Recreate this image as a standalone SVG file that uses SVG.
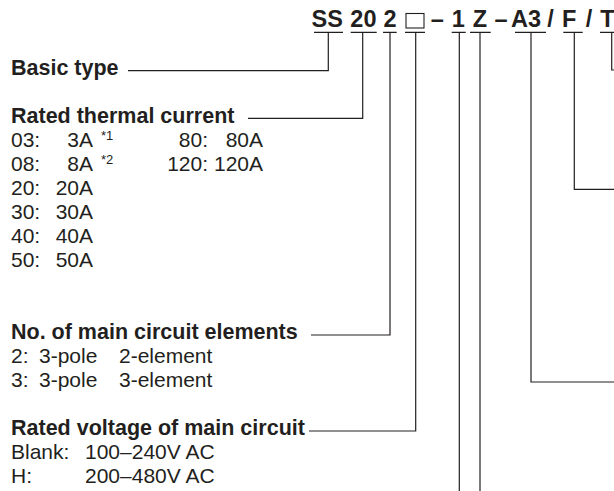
<svg xmlns="http://www.w3.org/2000/svg" width="614" height="491" viewBox="0 0 614 491">
<style>
text{font-family:"Liberation Sans",Arial,Helvetica,sans-serif;fill:#231f20}
.code{font-size:23.5px;font-weight:bold;text-anchor:middle}
.h{font-size:21.5px;font-weight:bold}
.t{font-size:21px}
.r{text-anchor:end}
.sup{font-size:13px}
.ln{fill:none;stroke:#231f20;stroke-width:1.2}
.box{fill:none;stroke:#231f20;stroke-width:1.1}
</style>
<g id="code">
<text class="code" x="327.2" y="27">SS</text>
<text class="code" x="363.4" y="27">20</text>
<text class="code" x="390" y="27">2</text>
<rect class="box" x="406" y="13.5" width="18" height="14.5"/>
<text class="code" x="437.4" y="27">–</text>
<text class="code" x="458.4" y="27">1</text>
<text class="code" x="480" y="27">Z</text>
<text class="code" x="501" y="27">–</text>
<text class="code" x="526" y="27">A3</text>
<text class="code" x="550.5" y="27">/</text>
<text class="code" x="569.2" y="27">F</text>
<text class="code" x="589" y="27">/</text>
<text class="code" x="607.5" y="27">T</text>
</g>
<g id="basic-type">
<text class="h" x="11" y="75">Basic type</text>
</g>
<g id="rated-thermal-current">
<text class="h" x="11" y="123">Rated thermal current</text>
<text class="t" x="11" y="147">03:</text><text class="t r" x="93" y="147">3A</text><text class="sup" x="101" y="140">*1</text>
<text class="t r" x="208" y="147">80:</text><text class="t r" x="263" y="147">80A</text>
<text class="t" x="11" y="171">08:</text><text class="t r" x="93" y="171">8A</text><text class="sup" x="101" y="164">*2</text>
<text class="t r" x="208" y="171">120:</text><text class="t r" x="263" y="171">120A</text>
<text class="t" x="11" y="195">20:</text><text class="t r" x="93" y="195">20A</text>
<text class="t" x="11" y="219">30:</text><text class="t r" x="93" y="219">30A</text>
<text class="t" x="11" y="243">40:</text><text class="t r" x="93" y="243">40A</text>
<text class="t" x="11" y="267">50:</text><text class="t r" x="93" y="267">50A</text>
</g>
<g id="main-circuit-elements">
<text class="h" x="11" y="339">No. of main circuit elements</text>
<text class="t" x="11" y="363">2:</text><text class="t" x="39" y="363">3-pole</text><text class="t" x="119" y="363">2-element</text>
<text class="t" x="11" y="387">3:</text><text class="t" x="39" y="387">3-pole</text><text class="t" x="119" y="387">3-element</text>
</g>
<g id="rated-voltage">
<text class="h" x="11" y="435">Rated voltage of main circuit</text>
<text class="t" x="11" y="459">Blank:</text><text class="t" x="85" y="459">100–240V AC</text>
<text class="t" x="11" y="483">H:</text><text class="t" x="85" y="483">200–480V AC</text>
</g>
<g id="connectors" class="ln">
<path d="M314 32.3H343M350.7 32.3H376.7M383 32.3H396.7M405 32.3H425M451.7 32.3H465.7M470 32.3H490.7M515 32.3H546M563.3 32.3H582.7M600 32.3H614"/>
<path d="M328.3 32.3V70.7H128"/>
<path d="M362.7 32.3V118.3H248"/>
<path d="M390 32.3V335H311"/>
<path d="M415.7 32.3V431H309"/>
<path d="M459.3 32.3V491"/>
<path d="M480 32.3V491"/>
<path d="M531 32.3V382H614"/>
<path d="M574.3 32.3V189.3H614"/>
<path d="M611.7 32.3V70H614"/>
</g>
</svg>
